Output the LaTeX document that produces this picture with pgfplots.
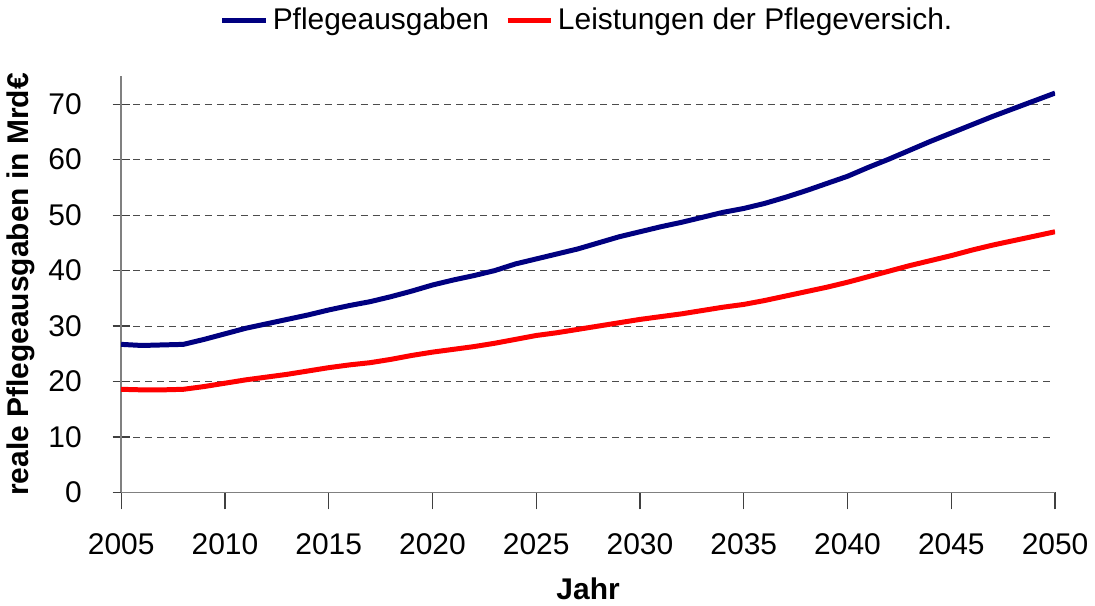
\documentclass[border=0pt]{standalone}
\usepackage{pgfplots}
\pgfplotsset{compat=1.18}
\usepackage{fontspec}
\setmainfont{Liberation Sans}

\definecolor{navy}{HTML}{000080}
\definecolor{axgray}{HTML}{808080}

\begin{document}
\begin{tikzpicture}
  \begin{axis}[
      scale only axis,
      width=468pt, height=208.5pt,
      xmin=2005, xmax=2050,
      ymin=0, ymax=75,
      xtick={2005,2010,...,2050},
      ytick={0,10,...,70},
      /pgf/number format/assume math mode=true,
      /pgf/number format/1000 sep={},
      tick label style={font=\fontsize{15}{18}\selectfont},
      xticklabel style={yshift=-8.5pt},
      yticklabel style={xshift=-12pt},
      axis x line*=bottom, axis y line*=left,
      axis line style={draw=axgray, line width=0.7pt},
      xtick align=outside, ytick align=center,
      major tick length=8.5pt,
      tick style={draw=black!75, line width=0.6pt},
      ymajorgrids=true,
      grid style={draw=black!70, dash pattern=on 3.5pt off 2.5pt, line width=0.5pt},
      xlabel={\textbf{Jahr}},
      ylabel={\textbf{reale Pflegeausgaben in Mrd€}},
      label style={font=\fontsize{15}{18}\selectfont},
      xlabel style={yshift=-4.5pt},
      ylabel style={yshift=0pt},
      legend style={draw=none, at={(0.5,1.085)}, anchor=south,
        font=\fontsize{15}{18}\selectfont, legend columns=-1,
        /tikz/every even column/.append style={column sep=6pt}},
      legend image code/.code={\draw[#1, line width=2.5pt] (0pt,0pt) -- (22pt,0pt);},
    ]

    \addplot[color=navy, line width=2.5pt] coordinates {
        (2005,26.7) (2006,26.5) (2007,26.6) (2008,26.7) (2009,27.6) (2010,28.6)
        (2011,29.6) (2012,30.4) (2013,31.2) (2014,32.0) (2015,32.9) (2016,33.7)
        (2017,34.4) (2018,35.3) (2019,36.3) (2020,37.4) (2021,38.3) (2022,39.1)
        (2023,40.0) (2024,41.2) (2025,42.1) (2026,43.0) (2027,43.9) (2028,45.0)
        (2029,46.1) (2030,47.0) (2031,47.9) (2032,48.7) (2033,49.6) (2034,50.5)
        (2035,51.2) (2036,52.1) (2037,53.2) (2038,54.4) (2039,55.7) (2040,57.0)
        (2041,58.6) (2042,60.1) (2043,61.7) (2044,63.3) (2045,64.8) (2046,66.3)
        (2047,67.8) (2048,69.2) (2049,70.6) (2050,72.0)
      };
    \addplot[color=red, line width=2.5pt] coordinates {
        (2005,18.6) (2006,18.5) (2007,18.5) (2008,18.6) (2009,19.1) (2010,19.7)
        (2011,20.3) (2012,20.8) (2013,21.3) (2014,21.9) (2015,22.5) (2016,23.0)
        (2017,23.4) (2018,24.0) (2019,24.7) (2020,25.3) (2021,25.8) (2022,26.3)
        (2023,26.9) (2024,27.6) (2025,28.3) (2026,28.8) (2027,29.4) (2028,30.0)
        (2029,30.6) (2030,31.2) (2031,31.7) (2032,32.2) (2033,32.8) (2034,33.4)
        (2035,33.9) (2036,34.6) (2037,35.4) (2038,36.2) (2039,37.0) (2040,37.9)
        (2041,38.9) (2042,39.9) (2043,40.9) (2044,41.8) (2045,42.7) (2046,43.7)
        (2047,44.6) (2048,45.4) (2049,46.2) (2050,47.0)
      };
    \legend{Pflegeausgaben, Leistungen der Pflegeversich.}
  \end{axis}
\end{tikzpicture}
\end{document}
